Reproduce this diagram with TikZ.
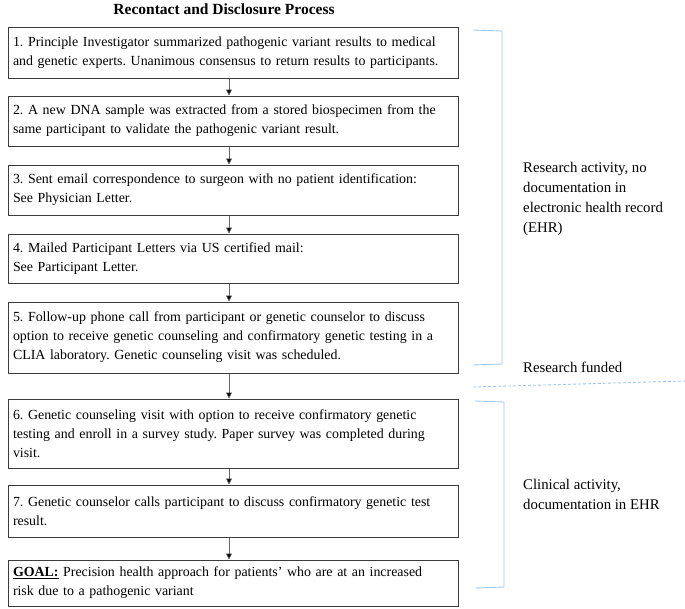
\documentclass[tikz,border=0pt]{standalone}
\usepackage{fontspec}
\setmainfont{Liberation Serif}
\usetikzlibrary{arrows.meta}
\definecolor{brk}{RGB}{160,200,238}
\definecolor{boxline}{RGB}{60,60,60}
\frenchspacing
\tikzset{
  box/.style={draw=boxline, line width=1pt, minimum width=450pt, text width=440pt, inner xsep=5pt, inner ysep=2pt, align=left, font=\frenchspacing\fontsize{13.9}{19}\selectfont},
  arr/.style={draw=black!60, line width=0.6pt, -{Triangle[width=6pt,length=6pt,fill=black]}},
  brkline/.style={draw=brk, line width=0.9pt},
  side/.style={anchor=north west, align=left, font=\frenchspacing\fontsize{14.8}{20}\selectfont, inner sep=0pt}
}
\begin{document}
\begin{tikzpicture}[x=1pt,y=-1pt]
\useasboundingbox (0,0) rectangle (685,608);
\node[font=\bfseries\fontsize{15.5}{17}\selectfont] (title) at (224,9) {Recontact and Disclosure Process};
\node[box, minimum height=51pt] (b1) at (233,52.5) {1. Principle Investigator summarized pathogenic variant results to medical\\and genetic experts. Unanimous consensus to return results to participants.};
\node[box, minimum height=50pt] (b2) at (233,121) {2. A new DNA sample was extracted from a stored biospecimen from the\\same participant to validate the pathogenic variant result.};
\node[box, minimum height=50pt] (b3) at (233,190) {3. Sent email correspondence to surgeon with no patient identification:\\See Physician Letter.};
\node[box, minimum height=49pt] (b4) at (233,258.5) {4. Mailed Participant Letters via US certified mail:\\See Participant Letter.};
\node[box, minimum height=71pt] (b5) at (233,337.5) {5. Follow-up phone call from participant or genetic counselor to discuss\\option to receive genetic counseling and confirmatory genetic testing in a\\CLIA laboratory. Genetic counseling visit was scheduled.};
\node[box, minimum height=69pt] (b6) at (233,433.5) {6. Genetic counseling visit with option to receive confirmatory genetic\\testing and enroll in a survey study. Paper survey was completed during\\visit.};
\node[box, minimum height=52pt] (b7) at (233,511) {7. Genetic counselor calls participant to discuss confirmatory genetic test\\result.};
\node[box, minimum height=46pt] (goal) at (233,583) {\textbf{\underline{GOAL:}} Precision health approach for patients' who are at an increased\\risk due to a pathogenic variant};
\foreach \a/\b in {b1/b2,b2/b3,b3/b4,b4/b5,b5/b6,b6/b7,b7/goal}{
  \draw[arr] ([xshift=-4pt]\a.south) -- ([xshift=-4pt]\b.north);
}
% brackets
\coordinate (r1a) at (473,30);
\coordinate (r1b) at (502,31);
\coordinate (r1c) at (502,364);
\coordinate (r1d) at (473,365);
\draw[brkline] (r1a) -- (r1b) -- (r1c) -- (r1d);
\coordinate (r2a) at (475,401);
\coordinate (r2b) at (504,402);
\coordinate (r2c) at (504,587);
\coordinate (r2d) at (475,588);
\draw[brkline] (r2a) -- (r2b) -- (r2c) -- (r2d);
\coordinate (d1) at (473,387);
\coordinate (d2) at (685,381);
\draw[brkline, dashed, dash pattern=on 3pt off 2pt] (d1) -- (d2);
\node[side] (t1) at (523,162) {Research activity, no\\documentation in\\electronic health record\\(EHR)};
\node[side] (t2) at (523,362) {Research funded};
\node[side] (t3) at (523,479) {Clinical activity,\\documentation in EHR};
\end{tikzpicture}
\end{document}
